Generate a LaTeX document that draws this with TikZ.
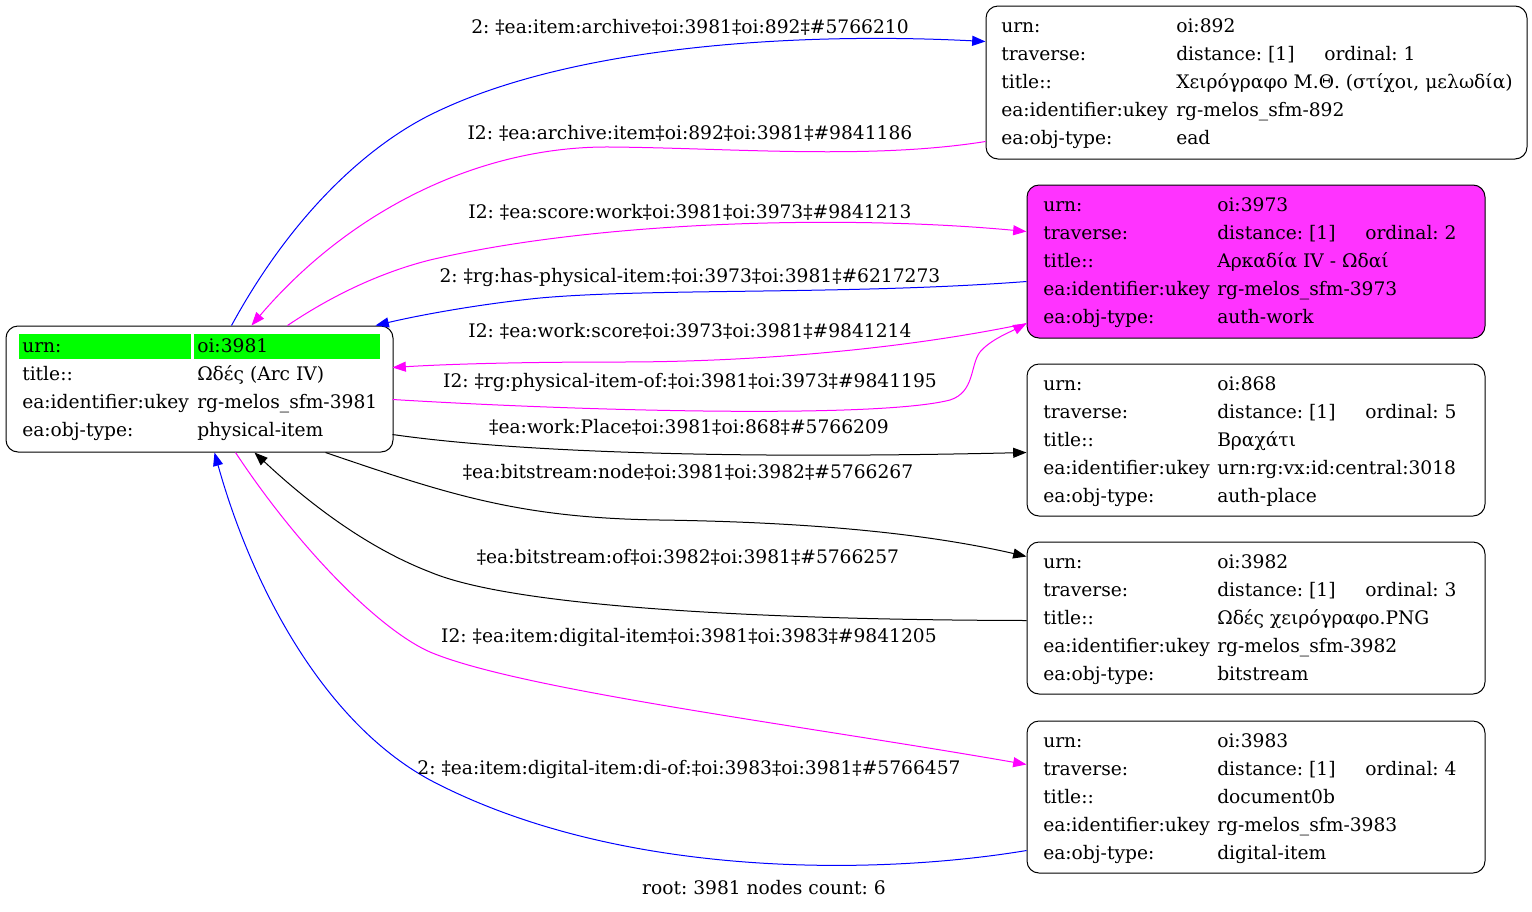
\documentclass[tikz,border=0pt]{standalone}
\usepackage{fontspec}
\setmainfont{DejaVu Serif}
\usetikzlibrary{arrows.meta,calc,fit}
\definecolor{hlmag}{RGB}{255,51,255}
\definecolor{hlgreen}{RGB}{0,255,0}
\definecolor{emag}{RGB}{255,0,255}
\definecolor{eblue}{RGB}{0,0,255}
\frenchspacing
\tikzset{
  recbox/.style={draw=black, line width=0.75pt, rounded corners=9pt, inner sep=0pt},
  cellbox/.style={fill=hlgreen, draw=none, inner sep=0pt},
  txt/.style={anchor=base west, inner sep=0pt, font=\fontsize{14}{16}\selectfont},
  elabel/.style={anchor=base, inner sep=0pt, font=\fontsize{14}{16}\selectfont},
  conn/.style={line width=0.75pt, -{Triangle[length=10pt,width=7.5pt]}},
}
\begin{document}
\begin{tikzpicture}[x=0.75pt,y=-0.75pt]
\useasboundingbox (0,0) rectangle (1532,911);

% ---------- boxes ----------
\node[recbox, fit={(6,326) (393,452)}] (n3981) {};
\node[recbox, fit={(986,6) (1527,159)}] (n892) {};
\node[recbox, fill=hlmag, fit={(1027,185) (1485,338)}] (n3973) {};
\node[recbox, fit={(1027,364) (1485,516)}] (n868) {};
\node[recbox, fit={(1027,542) (1485,694)}] (n3982) {};
\node[recbox, fit={(1027,721) (1485,873)}] (n3983) {};

% ---------- root node ----------
\node[cellbox, fit={(19,334) (191,359)}] (g1) {};
\node[cellbox, fit={(194,334) (380,359)}] (g2) {};
\node[txt] (r1l) at (22,352) {urn:};
\node[txt] (r1v) at (197,352) {oi:3981};
\node[txt] (r2l) at (22,380) {title::};
\node[txt] (r2v) at (197,380) {Ωδές (Arc IV)};
\node[txt] (r3l) at (22,408) {ea:identifier:ukey};
\node[txt] (r3v) at (197,408) {rg-melos\_sfm-3981};
\node[txt] (r4l) at (22,436) {ea:obj-type:};
\node[txt] (r4v) at (197,436) {physical-item};

% ---------- labels of the right-hand nodes ----------
\foreach \nm/\lx/\by in {a/1001/32, b/1043/211, c/1043/390, d/1043/568, e/1043/747}{
  \node[txt] (\nm-l1) at (\lx,\by) {urn:};
  \node[txt] (\nm-l2) at (\lx,\by+28) {traverse:};
  \node[txt] (\nm-l3) at (\lx,\by+56) {title::};
  \node[txt] (\nm-l4) at (\lx,\by+84) {ea:identifier:ukey};
  \node[txt] (\nm-l5) at (\lx,\by+112) {ea:obj-type:};
}

% oi:892
\node[txt] (a-v1) at (1176,32) {oi:892};
\node[txt] (a-v2) at (1176,60) {distance: [1]};
\node[txt] (a-o2) at (1324,60) {ordinal: 1};
\node[txt] (a-v3) at (1176,88) {Χειρόγραφο Μ.Θ. (στίχοι, μελωδία)};
\node[txt] (a-v4) at (1176,116) {rg-melos\_sfm-892};
\node[txt] (a-v5) at (1176,144) {ead};

% oi:3973
\node[txt] (b-v1) at (1217,211) {oi:3973};
\node[txt] (b-v2) at (1217,239) {distance: [1]};
\node[txt] (b-o2) at (1365,239) {ordinal: 2};
\node[txt] (b-v3) at (1217,267) {Αρκαδία IV - Ωδαί};
\node[txt] (b-v4) at (1217,295) {rg-melos\_sfm-3973};
\node[txt] (b-v5) at (1217,323) {auth-work};

% oi:868
\node[txt] (c-v1) at (1217,390) {oi:868};
\node[txt] (c-v2) at (1217,418) {distance: [1]};
\node[txt] (c-o2) at (1365,418) {ordinal: 5};
\node[txt] (c-v3) at (1217,446) {Βραχάτι};
\node[txt] (c-v4) at (1217,474) {urn:rg:vx:id:central:3018};
\node[txt] (c-v5) at (1217,502) {auth-place};

% oi:3982
\node[txt] (d-v1) at (1217,568) {oi:3982};
\node[txt] (d-v2) at (1217,596) {distance: [1]};
\node[txt] (d-o2) at (1365,596) {ordinal: 3};
\node[txt] (d-v3) at (1217,624) {Ωδές χειρόγραφο.PNG};
\node[txt] (d-v4) at (1217,652) {rg-melos\_sfm-3982};
\node[txt] (d-v5) at (1217,680) {bitstream};

% oi:3983
\node[txt] (e-v1) at (1217,747) {oi:3983};
\node[txt] (e-v2) at (1217,775) {distance: [1]};
\node[txt] (e-o2) at (1365,775) {ordinal: 4};
\node[txt] (e-v3) at (1217,803) {document0b};
\node[txt] (e-v4) at (1217,831) {rg-melos\_sfm-3983};
\node[txt] (e-v5) at (1217,859) {digital-item};

% ---------- connectors ----------
% 1
\draw[conn, eblue] ($(n3981.north west)+(226,0)$) .. controls (300,200) and (380,140) .. (430,115)
   .. controls (570,45) and (800,32) .. ($(n892.north west)+(0,36)$);
% 2
\draw[conn, emag] ($(n892.north west)+(0,136)$) .. controls (870,160) and (730,148) .. (610,147)
   .. controls (480,146) and (350,210) .. ($(n3981.north west)+(246,0)$);
% 3
\draw[conn, emag] ($(n3981.north west)+(282,0)$) .. controls (340,290) and (390,270) .. (430,260)
   .. controls (600,220) and (850,215) .. ($(n3973.north west)+(0,47)$);
% 4
\draw[conn, eblue] ($(n3973.north west)+(0,97)$) .. controls (850,295) and (650,288) .. (540,298)
   .. controls (480,304) and (420,315) .. ($(n3981.north west)+(370,0)$);
% 5
\draw[conn, emag] ($(n3973.north west)+(0,139)$) .. controls (900,350) and (750,362) .. (620,362)
   .. controls (520,362) and (450,364) .. ($(n3981.north west)+(387,42)$);
% 6
\draw[conn, emag] ($(n3981.north west)+(387,74)$) .. controls (600,412) and (880,418) .. (950,400)
   .. controls (975,392) and (970,365) .. (980,352)
   .. controls (990,340) and (1010,332) .. ($(n3973.north west)+(0,139)$);
% 7
\draw[conn, black] ($(n3981.north west)+(387,109)$) .. controls (500,450) and (700,460) .. ($(n868.north west)+(0,89)$);
% 8
\draw[conn, black] ($(n3981.south west)+(320,0)$) .. controls (450,495) and (520,518) .. (660,520)
   .. controls (800,522) and (920,532) .. ($(n3982.north west)+(0,15)$);
% 9
\draw[conn, black] ($(n3982.north west)+(0,79)$) .. controls (800,620) and (520,610) .. (430,572)
   .. controls (360,545) and (300,495) .. ($(n3981.south west)+(249,0)$);
% 10
\draw[conn, emag] ($(n3981.south west)+(230,0)$) .. controls (300,550) and (380,630) .. (430,652)
   .. controls (520,690) and (800,725) .. ($(n3983.north west)+(0,44)$);
% 11
\draw[conn, eblue] ($(n3983.north west)+(0,130)$) .. controls (880,875) and (620,880) .. (430,780)
   .. controls (320,720) and (250,580) .. ($(n3981.south west)+(209,0)$);

% ---------- edge labels ----------
\node[elabel] (L1) at (690,33) {2: ‡ea:item:archive‡oi:3981‡oi:892‡\#5766210};
\node[elabel] (L2) at (690,139) {I2: ‡ea:archive:item‡oi:892‡oi:3981‡\#9841186};
\node[elabel] (L3) at (690,218) {I2: ‡ea:score:work‡oi:3981‡oi:3973‡\#9841213};
\node[elabel] (L4) at (690,282) {2: ‡rg:has-physical-item:‡oi:3973‡oi:3981‡\#6217273};
\node[elabel] (L5) at (690,337) {I2: ‡ea:work:score‡oi:3973‡oi:3981‡\#9841214};
\node[elabel] (L6) at (690,387) {I2: ‡rg:physical-item-of:‡oi:3981‡oi:3973‡\#9841195};
\node[elabel] (L7) at (689,433) {‡ea:work:Place‡oi:3981‡oi:868‡\#5766209};
\node[elabel] (L8) at (688,478) {‡ea:bitstream:node‡oi:3981‡oi:3982‡\#5766267};
\node[elabel] (L9) at (688,563) {‡ea:bitstream:of‡oi:3982‡oi:3981‡\#5766257};
\node[elabel] (L10) at (689,642) {I2: ‡ea:item:digital-item‡oi:3981‡oi:3983‡\#9841205};
\node[elabel] (L11) at (689,774) {2: ‡ea:item:digital-item:di-of:‡oi:3983‡oi:3981‡\#5766457};
\node[elabel] (foot) at (764,894) {root: 3981 nodes count: 6};
\end{tikzpicture}
\end{document}
